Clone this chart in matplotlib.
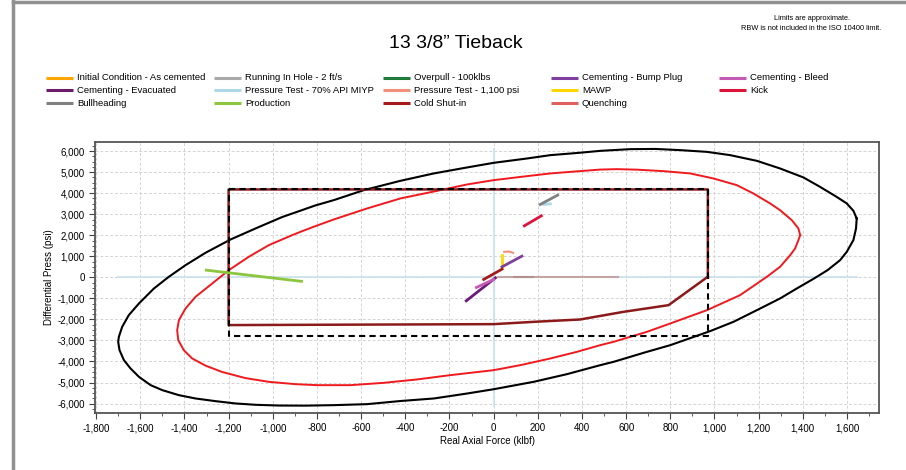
import matplotlib.pyplot as plt
from matplotlib.lines import Line2D
from matplotlib.ticker import MultipleLocator, FuncFormatter

plt.rcParams['font.family'] = ['Liberation Sans', 'DejaVu Sans']

black_x = [1644, 1629, 1599, 1553, 1478, 1403, 1297, 1192, 1071, 965, 845, 732, 619,
           483, 385, 257, 151, 0, -120, -271, -422, -588, -724, -807, -875, -957, -1078,
           -1191, -1305, -1395, -1471, -1538, -1606, -1652, -1682, -1697, -1700, -1694,
           -1674, -1644, -1606, -1553, -1500, -1425, -1350, -1259, -1169, -1078, -973,
           -850, -724, -573, -422, -271, -120, 0, 181, 332, 483, 543, 694, 800, 980,
           1086, 1192, 1297, 1373, 1450, 1512, 1569, 1599, 1629, 1641, 1644]
black_y = [2800, 3165, 3514, 3828, 4303, 4750, 5177, 5540, 5811, 5968, 6049, 6105, 6096,
           6015, 5920, 5811, 5652, 5445, 5226, 4941, 4590, 4146, 3671, 3420, 3170, 2870, 2325,
           1802, 1165, 580, 24, -528, -1241, -1797, -2354, -2829, -3067, -3462,
           -3937, -4333, -4731, -5126, -5364, -5602, -5759, -5887, -5996, -6060, -6095,
           -6100, -6077, -6029, -5880, -5760, -5523, -5320, -4968, -4603, -4175, -4017, -3542, -3224, -2558,
           -2115, -1560, -1004, -528, -60, 342, 818, 1213, 1769, 2325, 2800]

# limit with design factor (red)
red_x = [1388, 1380, 1350, 1297, 1252, 1176, 1101, 995, 890, 769, 650, 558, 483, 377,
         257, 151, 0, -120, -241, -422, -573, -724, -807, -875, -912, -1018, -1109,
         -1199, -1274, -1350, -1395, -1425, -1433, -1428, -1403, -1365, -1304, -1229,
         -1124, -1018, -897, -799, -648, -498, -347, -196, 0, 121, 257, 377, 483, 543,
         694, 800, 966, 1116, 1237, 1297, 1343, 1365, 1380, 1388]
red_y = [2007, 2325, 2720, 3195, 3514, 3990, 4385, 4703, 4941, 5050, 5120, 5145, 5125, 5040,
         4941, 4812, 4622, 4417, 4146, 3752, 3276, 2752, 2435, 2163, 2007, 1531, 975,
         342, -290, -927, -1479, -2035, -2511, -2986, -3462, -3857, -4200, -4500,
         -4790, -4968, -5079, -5126, -5126, -5016, -4855, -4650, -4413, -4175, -3857, -3542, -3224, -3066,
         -2591, -2192, -1560, -846, 24, 501, 1056, 1372, 1769, 2007]

# design envelope (dashed black)
design_x = [-1200, 970, 970, -1200, -1200]
design_y = [4180, 4180, -2800, -2800, 4180]

# connection envelope (dark red)
conn_x = [970, 966, 792, 588, 392, 181, 0, -1200, -1200, 970, 970]
conn_y = [0, 0, -1322, -1640, -2003, -2116, -2225, -2270, 4180, 4180, 0]

# zero lines
zero_h_x = [-1700, 1645]
zero_v_y = [-6100, 6100]

# load cases
production_x = [-1301, -870]
production_y = [342, -190]
bullheading_x = [211, 290]
bullheading_y = [3466, 3909]
ptest70_x = [226, 257]
ptest70_y = [3466, 3495]
kick_x = [139, 216]
kick_y = [2449, 2924]
ptest1100_x = [48, 70, 88]
ptest1100_y = [1213, 1230, 1165]
mawp_x = [38, 38]
mawp_y = [1056, 471]
bump_x = [38, 128]
bump_y = [499, 1008]
evacuated_x = [-124, 8]
evacuated_y = [-1117, -24]
bleed_x = [-78, 0]
bleed_y = [-481, -100]
coldshut_x = [-45, 38]
coldshut_y = [-100, 390]
rih_x = [20, 562]
rih_y = [0, 0]

legend_names = ['Initial Condition - As cemented', 'Running In Hole - 2 ft/s', 'Overpull - 100klbs',
                'Cementing - Bump Plug', 'Cementing - Bleed', 'Cementing - Evacuated',
                'Pressure Test - 70% API MIYP', 'Pressure Test - 1,100 psi', 'MAWP', 'Kick',
                'Bullheading', 'Production', 'Cold Shut-in', 'Quenching']
legend_colors = ['#FFA500', '#A9A9A9', '#1E7B3A', '#7E3F9E', '#C45AB3', '#6A1B6A',
                 '#ADD8E6', '#F0907A', '#FFD700', '#DC143C', '#808080', '#8CC63F',
                 '#A31B1B', '#E06060']

W, H = 906, 470
fig = plt.figure(figsize=(W / 100, H / 100), dpi=100)
ax = fig.add_axes([95 / W, 1 - 413 / H, (879 - 95) / W, (413 - 141.7) / H])

ax.plot(zero_h_x, [0, 0], color='#C8E2EC', lw=1.2, zorder=1)
ax.plot([0, 0], zero_v_y, color='#C8E2EC', lw=1.2, zorder=1)

ax.plot(black_x, black_y, color='black', lw=1.5, zorder=3, solid_joinstyle='round')
ax.plot(red_x, red_y, color='#F0191E', lw=1.4, zorder=3, solid_joinstyle='round')

ax.plot(conn_x, conn_y, color='#8B1A1A', lw=1.8, zorder=4)
ax.plot(design_x, design_y, color='black', lw=1.5, ls=(0, (3, 2)), zorder=5)

ax.plot(rih_x, rih_y, color='#C4A4A4', lw=1.5, zorder=4)
ax.plot([90, 180], [0, 0], color='#B09090', lw=1.5, zorder=4)
ax.plot(production_x, production_y, color='#8CC63F', lw=2, zorder=6)
ax.plot(bullheading_x, bullheading_y, color='#808080', lw=2, zorder=6)
ax.plot(ptest70_x, ptest70_y, color='#ADD8E6', lw=2, zorder=5)
ax.plot(kick_x, kick_y, color='#DC143C', lw=2, zorder=6)
ax.plot(ptest1100_x, ptest1100_y, color='#F0907A', lw=1.5, zorder=6)
ax.plot(mawp_x, mawp_y, color='#FFD700', lw=2, zorder=6)
ax.plot(bump_x, bump_y, color='#7E3F9E', lw=2, zorder=6)
ax.plot(evacuated_x, evacuated_y, color='#6A1B7A', lw=2, zorder=6)
ax.plot(bleed_x, bleed_y, color='#C45AB3', lw=2, zorder=6)
ax.plot(coldshut_x, coldshut_y, color='#A31B1B', lw=2, zorder=6)

ax.set_xlim(-1805, 1745)
ax.set_ylim(-6450, 6450)
ax.xaxis.set_major_locator(MultipleLocator(200))
ax.xaxis.set_minor_locator(MultipleLocator(100))
ax.yaxis.set_major_locator(MultipleLocator(1000))
ax.yaxis.set_minor_locator(MultipleLocator(250))
fmt = FuncFormatter(lambda v, p: '{:,}'.format(int(round(v))))
ax.xaxis.set_major_formatter(fmt)
ax.yaxis.set_major_formatter(fmt)
ax.tick_params(which='both', direction='out', labelsize=7, colors='#404040', labelcolor='black')
ax.tick_params(which='major', length=4)
ax.tick_params(which='minor', length=2)
ax.grid(True, which='major', color='#D4D4D4', ls=(0, (3, 2)), lw=0.7)
ax.set_axisbelow(True)
for s in ax.spines.values():
    s.set_color('#555555')
    s.set_linewidth(1.3)

ax.set_xlabel('Real Axial Force (klbf)', fontsize=7, labelpad=2)
ax.set_ylabel('Differential Press (psi)', fontsize=7, labelpad=2)

fig.text(456 / W, 1 - 43 / H, '13 3/8\u201d Tieback', fontsize=14, ha='center', va='center')
fig.text(812 / W, 1 - 19 / H, 'Limits are approximate.', fontsize=5.3, ha='center', va='center')
fig.text(811 / W, 1 - 28 / H, 'RBW is not included in the ISO 10400 limit.', fontsize=5.3,
         ha='center', va='center')

# legend, laid out in a 5 column grid
for i, (name, color) in enumerate(zip(legend_names, legend_colors)):
    col, row = i % 5, i // 5
    x0 = 45 + col * 168.3
    y0 = 77.5 + row * 12.8
    fig.add_artist(Line2D([(x0 + 1) / W, (x0 + 28) / W], [1 - y0 / H, 1 - y0 / H],
                          color=color, lw=2.2, solid_capstyle='butt', transform=fig.transFigure))
    fig.text((x0 + 32) / W, 1 - y0 / H, name, fontsize=6.8, ha='left', va='center')

# page frame
fig.add_artist(Line2D([13 / W, 13 / W], [0, 1], color='#909090', lw=2.5, transform=fig.transFigure))
fig.add_artist(Line2D([13 / W, 1], [1 - 1.5 / H, 1 - 1.5 / H], color='#909090', lw=2.5,
                      transform=fig.transFigure))

fig.savefig('out.png', dpi=100)
